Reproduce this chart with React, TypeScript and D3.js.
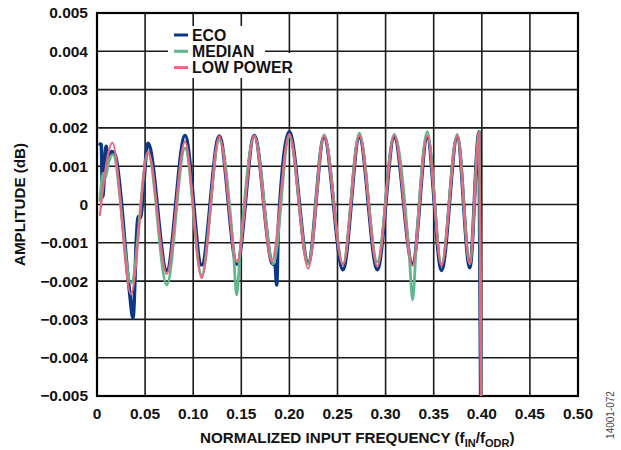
import React from "react";
import * as d3 from "d3";

// ---------- data ----------
const xTicks = [0, 0.05, 0.1, 0.15, 0.2, 0.25, 0.3, 0.35, 0.4, 0.45, 0.5];
const xTickLabels = ["0", "0.05", "0.10", "0.15", "0.20", "0.25", "0.30", "0.35", "0.40", "0.45", "0.50"];
const yTicks = [0.005, 0.004, 0.003, 0.002, 0.001, 0, -0.001, -0.002, -0.003, -0.004, -0.005];
const yTickLabels = ["0.005", "0.004", "0.003", "0.002", "0.001", "0", "\u22120.001", "\u22120.002", "\u22120.003", "\u22120.004", "\u22120.005"];

const seriesNames = ["ECO", "MEDIAN", "LOW POWER"];

// [normalized frequency, amplitude (dB)]
const ecoData: [number, number][] = [
  [0.0032, 0.00158], [0.0045, 0.00156], [0.0058, 0.0002], [0.0095, 0.00152],
  [0.0115, 0.00112], [0.015, 0.00138], [0.019, 0.00128], [0.0335, -0.0022],
  [0.0374, -0.00296], [0.0412, -0.0008], [0.0428, -0.00032], [0.0448, -0.00035],
  [0.053, 0.0016], [0.0725, -0.00172], [0.0915, 0.0018], [0.1088, -0.00158],
  [0.1271, 0.00179], [0.1455, -0.00156], [0.1635, 0.0018], [0.1816, -0.00152],
  [0.1852, -0.0016], [0.1868, -0.0021], [0.1885, -0.0006], [0.1999, 0.0019],
  [0.2196, -0.00152], [0.236, 0.00176], [0.2557, -0.0017], [0.2727, 0.00175],
  [0.2914, -0.0017], [0.309, 0.00176], [0.328, -0.00155], [0.3433, 0.00175],
  [0.3581, -0.00172], [0.3745, 0.00176], [0.3875, -0.00165], [0.3972, 0.0019],
  [0.3992, -0.0065],
];

const medianData: [number, number][] = [
  [0.003, 0.0001], [0.0065, 0.00082], [0.0085, 0.00068], [0.0125, 0.00115],
  [0.0165, 0.0013], [0.0355, -0.00205], [0.053, 0.00135], [0.0725, -0.0021],
  [0.0915, 0.00147], [0.1088, -0.00185], [0.1271, 0.00168], [0.1415, -0.0011],
  [0.1452, -0.00236], [0.149, -0.00115], [0.1635, 0.00178], [0.1833, -0.00155],
  [0.1999, 0.00178], [0.2196, -0.00155], [0.236, 0.00182], [0.2557, -0.00155],
  [0.2727, 0.00186], [0.2914, -0.0015], [0.309, 0.00183], [0.3245, -0.0013],
  [0.3281, -0.00249], [0.332, -0.001], [0.3433, 0.0019], [0.3581, -0.00155],
  [0.3745, 0.00183], [0.3875, -0.00155], [0.3974, 0.0019], [0.3998, -0.0065],
];

const lowPowerData: [number, number][] = [
  [0.003, -0.00027], [0.016, 0.00161], [0.0353, -0.00234], [0.053, 0.00138],
  [0.0725, -0.00181], [0.0915, 0.00164], [0.1088, -0.00192], [0.1271, 0.00178],
  [0.1455, -0.0015], [0.1635, 0.0018], [0.1816, -0.00149], [0.1999, 0.00184],
  [0.2196, -0.00167], [0.236, 0.00179], [0.2557, -0.00158], [0.2727, 0.0018],
  [0.2914, -0.00162], [0.309, 0.00181], [0.328, -0.0016], [0.3433, 0.0018],
  [0.3581, -0.0016], [0.3745, 0.0018], [0.3875, -0.00155], [0.3974, 0.0019],
  [0.3998, -0.0065],
];

// ---------- layout ----------
const W = 621;
const H = 450;
const L = 97, R = 578, T = 13, B = 396;
const FONT = "'Liberation Sans', Arial, sans-serif";

export default function App() {
  const x = d3.scaleLinear().domain([0, 0.5]).range([L, R]);
  const y = d3.scaleLinear().domain([-0.005, 0.005]).range([B, T]);
  const line = d3
    .line<[number, number]>()
    .x((d) => x(d[0]))
    .y((d) => y(d[1]))
    .curve(d3.curveMonotoneX);

  const series = [
    { name: seriesNames[0], data: ecoData, color: "#0b3785", width: 3.6 },
    { name: seriesNames[1], data: medianData, color: "#5fb88b", width: 2.8 },
    { name: seriesNames[2], data: lowPowerData, color: "#e8667f", width: 2.2 },
  ];

  const legendX = 174;
  const legendY = [35, 51.3, 67.6];

  return (
    <svg width={W} height={H} style={{ position: "absolute", left: 0, top: 0 }}>
      <rect x={0} y={0} width={W} height={H} fill="#fff" />
      <defs>
        <clipPath id="plotclip">
          <rect x={L} y={T} width={R - L} height={B - T} />
        </clipPath>
      </defs>
      {/* grid */}
      {xTicks.map((t, i) => (
        <line key={"gx" + i} x1={x(t)} x2={x(t)} y1={T} y2={B} stroke="#1a1a1a" strokeWidth={1.6} />
      ))}
      {yTicks.map((t, i) => (
        <line key={"gy" + i} x1={L} x2={R} y1={y(t)} y2={y(t)} stroke="#1a1a1a" strokeWidth={1.6} />
      ))}
      <rect x={L} y={T} width={R - L} height={B - T} fill="none" stroke="#000" strokeWidth={2.2} />

      {/* legend background */}
      <rect x={168} y={26} width={97} height={52} fill="#fff" />
      <rect x={265} y={53} width={32} height={25} fill="#fff" />

      {/* series */}
      <g clipPath="url(#plotclip)">
        {series.map((s) => (
          <path
            key={s.name}
            d={line(s.data) || ""}
            fill="none"
            stroke={s.color}
            strokeWidth={s.width}
            strokeLinejoin="round"
            strokeLinecap="round"
          />
        ))}
      </g>

      {/* legend */}
      {series.map((s, i) => (
        <g key={"lg" + i}>
          <line x1={legendX} x2={legendX + 14} y1={legendY[i]} y2={legendY[i]} stroke={s.color} strokeWidth={3} />
          <text x={legendX + 18} y={legendY[i] + 5.5} fontFamily={FONT} fontWeight="bold" fontSize={15.8} fill="#111">
            {s.name}
          </text>
        </g>
      ))}

      {/* y tick labels */}
      {yTicks.map((t, i) => (
        <text
          key={"yl" + i}
          x={L - 9}
          y={y(t) + 5.4}
          textAnchor="end"
          fontFamily={FONT}
          fontWeight="bold"
          fontSize={15.5}
          fill="#111"
        >
          {yTickLabels[i]}
        </text>
      ))}
      {/* x tick labels */}
      {xTicks.map((t, i) => (
        <text
          key={"xl" + i}
          x={x(t)}
          y={419}
          textAnchor="middle"
          fontFamily={FONT}
          fontWeight="bold"
          fontSize={15.5}
          fill="#111"
        >
          {xTickLabels[i]}
        </text>
      ))}

      {/* axis titles */}
      <text
        transform={`translate(25,${(T + B) / 2}) rotate(-90)`}
        textAnchor="middle"
        fontFamily={FONT}
        fontWeight="bold"
        fontSize={15.2}
        fill="#111"
      >
        AMPLITUDE (dB)
      </text>
      <text x={200} y={443} fontFamily={FONT} fontWeight="bold" fontSize={15.2} fill="#111">
        NORMALIZED INPUT FREQUENCY (f
        <tspan fontSize={11} dy={4}>IN</tspan>
        <tspan dy={-4}>/f</tspan>
        <tspan fontSize={11} dy={4}>ODR</tspan>
        <tspan dy={-4}>)</tspan>
      </text>

      <text
        transform={`translate(614,415) rotate(-90)`}
        textAnchor="middle"
        fontFamily={FONT}
        fontSize={10}
        fill="#444"
      >
        14001-072
      </text>
    </svg>
  );
}
